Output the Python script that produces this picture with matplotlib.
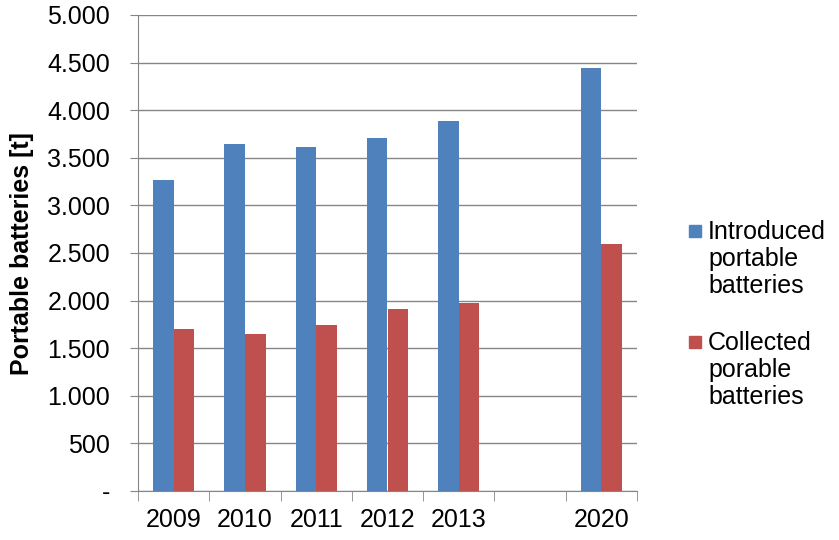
import matplotlib.pyplot as plt
from matplotlib.patches import Rectangle
import numpy as np

plt.rcParams['font.family'] = ['Liberation Sans', 'DejaVu Sans']

years = ['2009', '2010', '2011', '2012', '2013', '', '2020']
introduced = [3270, 3640, 3610, 3710, 3890, np.nan, 4440]
collected = [1700, 1645, 1740, 1910, 1970, np.nan, 2590]
series_names = ['Introduced\nportable\nbatteries', 'Collected\nporable\nbatteries']
yticks = np.arange(0, 5001, 500)
ytick_labels = ['-'] + ['{:,}'.format(v).replace(',', '.') for v in yticks[1:]]

blue = '#4f81bd'
red = '#c0504d'
grid = '#868686'
W, H = 839, 540

fig = plt.figure(figsize=(W / 100, H / 100), dpi=100)
ax = fig.add_axes([138 / W, 1 - 491 / H, 499 / W, 476 / H])

x = np.arange(len(years))
w = 0.29
ax.bar(x - w / 2, introduced, w, color=blue)
ax.bar(x + w / 2, collected, w, color=red)

ax.set_xlim(-0.5, len(years) - 0.5)
ax.set_ylim(0, 5000)
ax.set_yticks(yticks)
ax.set_yticklabels(ytick_labels, fontsize=18)
ax.yaxis.grid(True, color=grid, linewidth=1)
ax.set_axisbelow(True)

ax.set_xticks(x)
ax.set_xticklabels(years, fontsize=18)
ax.tick_params(axis='x', length=0, pad=12)
ax.set_xticks(np.arange(-0.5, len(years)), minor=True)
ax.tick_params(axis='x', which='minor', length=7, color=grid, direction='out')
ax.tick_params(axis='y', length=6, color=grid, direction='out', pad=14)

for s in ['top', 'right']:
    ax.spines[s].set_visible(False)
for s in ['left', 'bottom']:
    ax.spines[s].set_color(grid)

fig.text(22 / W, 1 - 254 / H, 'Portable batteries [t]', rotation=90, fontsize=18,
         fontweight='bold', ha='center', va='center')

# legend: square aligned with first line of each label
for name, col, ytop in zip(series_names, [blue, red], [220, 331]):
    fig.patches.append(Rectangle((689 / W, 1 - (ytop + 17) / H), 12 / W, 12 / H,
                                 transform=fig.transFigure, color=col))
    fig.text(708 / W, 1 - ytop / H, name, fontsize=18, ha='left', va='top',
             linespacing=1.15)

fig.savefig('out.png', dpi=100)
